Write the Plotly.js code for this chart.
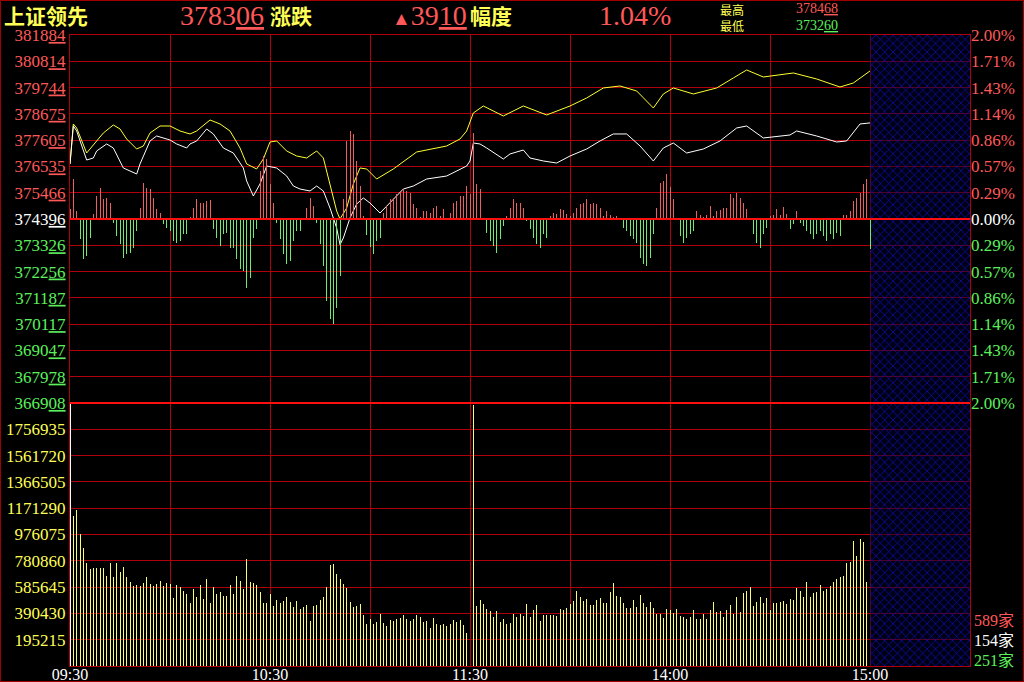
<!DOCTYPE html>
<html><head><meta charset="utf-8">
<script src="https://cdn.plot.ly/plotly-3.0.1.min.js"></script>
<style>html,body{margin:0;padding:0;background:#000;}#chart{width:1024px;height:682px;}</style>
</head><body><div id="chart"></div>
<script>
// ---------------- DATA ----------------
const prevClose = 374396;
const lastPrice = 378306;
const changePts = 3910;
const changePct = '1.04%';
const dayHigh = 378468;
const dayLow = 373260;
const upCount = 589, flatCount = 154, downCount = 251;

const timeLabels = ['09:30','','10:30','','11:30','','14:00','','15:00'];
const gridMinutes = [0,30,60,90,120,150,180,210,240];

const priceTickLabels = ['381884','380814','379744','378675','377605','376535','375466','374396','373326','372256','371187','370117','369047','367978','366908'];
const volTickLabels = ['1756935','1561720','1366505','1171290','976075','780860','585645','390430','195215'];

// white line (weighted index), minute offsets from 09:30 (lunch break removed)
const whiteMin = [0,1,2,5,7,8,11,13,16,20,21,24,26,28,30,32,35,36,38,41,43,46,49,52,53,55,57,59,62,65,67,69,72,74,76,78,80,81,82,84,86,88,90,93,100,103,107,113,117,119,120,121,123,125,130,132,136,138,142,146,150,155,159,163,167,171,175,178,181,185,190,195,200,203,208,216,218,224,230,233,237,240];
const whiteVal = [376635,378181,377978,376797,376879,377164,377449,377286,376472,376228,376635,377571,377774,377693,377611,377449,377286,377449,377571,378059,377856,377286,377082,376472,375943,375332,375821,376553,376472,376146,375739,375617,375536,375739,375536,374844,374030,373350,373623,374437,375007,375251,375047,374640,375617,375739,376024,376146,376431,376553,376757,377489,377449,377286,376838,377042,377204,376879,376757,376675,376960,377245,377571,377856,377856,377367,376757,377286,377489,377082,377245,377571,378100,378181,377693,377815,377978,377774,377530,377571,378263,378306];

// yellow line (leading / unweighted)
const yelMin = [0,1,2,5,8,10,13,15,17,20,22,24,27,30,33,36,38,42,45,48,51,53,56,58,60,62,65,68,71,74,76,78,80,81,83,85,87,89,91,92,97,104,113,117,119,121,124,127,130,136,143,150,155,160,165,170,175,178,181,187,194,199,203,208,217,224,231,235,240];
const yelVal = [376635,378263,378100,377082,377571,377896,378222,378059,377652,377245,377367,377896,378181,378181,377978,377856,377978,378425,378263,377978,377286,376635,376431,376838,377530,377571,377164,376960,376879,377164,376879,375821,374722,374396,374844,375821,376472,376431,376146,376024,376431,377123,377367,377652,377978,378710,378995,378792,378588,378995,378629,378995,379321,379728,379809,379606,378914,379484,379728,379484,379728,380135,380460,380175,380338,380094,379768,379931,380420];

// buy/sell strength bars, one per minute (0..240)
const strength = [10,40,8,-20,-40,-37,-19,5,23,31,
20,21,16,-4,-17,-25,-39,-35,-34,-29,
-12,11,36,31,30,21,10,6,-5,-9,
-12,-22,-24,-22,-15,-15,2,11,20,16,
16,18,19,-10,-19,-27,-15,-14,-29,-29,
-40,-50,-52,-69,-59,-19,-10,48,63,60,
35,16,-4,-20,-35,-45,-42,-22,-12,-12,
1,11,21,13,-4,-25,-47,-82,-100,-105,
-89,-57,20,78,88,85,58,33,3,-16,
-28,-35,-22,-19,6,13,20,21,25,26,
30,28,26,15,11,2,8,8,6,11,
13,3,10,1,6,16,18,23,23,33,
25,86,35,30,0,-14,-22,-27,-34,-20,
-7,3,11,20,16,16,11,-2,-10,-19,
-25,-29,-15,-19,3,6,5,10,9,5,
3,6,11,15,16,20,15,16,15,11,
3,8,4,2,3,1,-9,-12,-17,-20,
-24,-39,-45,-47,-39,-15,11,36,38,45,
32,20,0,-17,-24,-19,-15,-12,8,4,
2,4,13,3,8,9,11,11,25,21,
26,21,16,10,1,-15,-24,-29,-15,-9,
3,4,10,4,12,5,-10,-5,8,-4,
-7,-12,-15,-20,-15,-12,-17,-22,-15,-20,
-14,-17,4,4,8,18,21,26,35,40,
-30];

// volume, one per minute (0..240)
const volume = [1950000,1113000,1158000,980000,876000,765000,720000,727000,727000,727000,
727000,668000,765000,661000,765000,698000,735000,661000,624000,594000,
601000,594000,616000,661000,609000,594000,609000,631000,594000,616000,
609000,505000,601000,586000,557000,534000,468000,572000,512000,601000,
497000,646000,468000,586000,534000,549000,520000,520000,601000,534000,
668000,631000,572000,794000,624000,616000,601000,549000,468000,468000,
534000,445000,490000,468000,482000,512000,475000,438000,482000,423000,
438000,453000,334000,445000,453000,490000,512000,586000,750000,757000,
683000,646000,609000,579000,475000,438000,445000,460000,379000,312000,
349000,312000,327000,386000,319000,297000,341000,334000,349000,356000,
379000,349000,334000,349000,379000,364000,327000,334000,282000,356000,
312000,304000,312000,297000,312000,341000,327000,341000,304000,245000,
0,1937000,445000,490000,460000,422000,410000,362000,410000,328000,
349000,312000,317000,384000,361000,388000,371000,460000,361000,416000,
450000,334000,379000,379000,379000,379000,371000,423000,416000,428000,
460000,485000,557000,515000,485000,497000,453000,453000,490000,502000,
465000,470000,549000,614000,520000,510000,465000,428000,428000,490000,
436000,527000,465000,436000,475000,432000,388000,386000,359000,421000,
416000,391000,423000,371000,361000,349000,366000,416000,349000,349000,
388000,349000,416000,475000,401000,411000,364000,416000,450000,386000,
510000,401000,544000,559000,584000,445000,475000,510000,470000,502000,
416000,468000,470000,475000,485000,460000,497000,490000,581000,559000,
515000,624000,515000,544000,552000,601000,559000,572000,596000,626000,
646000,663000,668000,767000,774000,930000,819000,943000,923000,626000,
0];

// ---------------- STYLE / GEOMETRY ----------------
const L = 70, R = 970, T = 35, B = 666, SPLIT = 403;
const fx = px => (px - L) / (R - L);
const fy = py => (B - py) / (B - T);
const pd = fy(SPLIT);
const GRID = '#b0000e';
const RED = '#ff5858', GREEN = '#5cf05c', YEL = '#ffff55', WHITE = '#ffffff';
const NUMF = 'Liberation Serif, Noto Sans CJK SC';
const CJK = 'Noto Sans CJK SC';

const minutes = volume.map((_, i) => i);
const closeMin = gridMinutes[gridMinutes.length - 1];
const xMax = 270;
const priceMin = Number(priceTickLabels[priceTickLabels.length - 1]);
const priceMax = Number(priceTickLabels[0]);
const volStep = Number(volTickLabels[volTickLabels.length - 1]);
const volTop = volStep * (volTickLabels.length + 1);
const pctRange = (priceMax / prevClose - 1) * 100;

const u2 = s => { s = String(s); return s.slice(0, -2) + '<u>' + s.slice(-2) + '</u>'; };
const tone = (v, ref) => v > ref ? RED : (v < ref ? GREEN : WHITE);

const priceTickVals = priceTickLabels.map(Number);
const priceTickText = priceTickLabels.map(s => `<span style="color:${tone(Number(s), prevClose)}">${u2(s)}</span>`);
const pctTickVals = priceTickVals.map(p => (p / prevClose - 1) * 100);
const pctTickText = pctTickVals.map(v => `<span style="color:${tone(Math.round(v*100), 0)}">${Math.abs(v).toFixed(2)}%</span>`);
const volTickVals = volTickLabels.map(Number);

const hatch = { shape: 'x', fgcolor: '#1010b8', bgcolor: 'rgba(0,0,40,0.5)', size: 6, solidity: 0.22 };

const traces = [
  { // hatched after-close area, price panel
    x: [closeMin, xMax, xMax, closeMin], y: [-pctRange, -pctRange, pctRange, pctRange],
    xaxis: 'x2', yaxis: 'y2', type: 'scatter', mode: 'none', fill: 'toself',
    fillcolor: 'rgba(0,0,0,0)', fillpattern: hatch, hoverinfo: 'skip'
  },
  { // hatched after-close area, volume panel
    x: [closeMin, xMax, xMax, closeMin], y: [0, 0, volTop, volTop],
    xaxis: 'x', yaxis: 'y4', type: 'scatter', mode: 'none', fill: 'toself',
    fillcolor: 'rgba(0,0,0,0)', fillpattern: hatch, hoverinfo: 'skip'
  },
  {
    type: 'bar', x: minutes, y: strength, xaxis: 'x2', yaxis: 'y3', width: 0.3,
    marker: { color: strength.map(v => v >= 0 ? 'rgba(240,96,96,0.99)' : 'rgba(110,238,110,0.99)'), line: { width: 0 } },
    hoverinfo: 'skip'
  },
  {
    type: 'scatter', mode: 'lines', x: yelMin, y: yelVal, xaxis: 'x2', yaxis: 'y',
    line: { color: '#ffff30', width: 1 }, hoverinfo: 'skip'
  },
  {
    type: 'scatter', mode: 'lines', x: whiteMin, y: whiteVal, xaxis: 'x2', yaxis: 'y',
    line: { color: '#ffffff', width: 1 }, hoverinfo: 'skip'
  },
  {
    type: 'bar', x: minutes, y: volume, xaxis: 'x', yaxis: 'y4', width: 0.3,
    marker: { color: volume.map((v, i) => i === 0 ? 'rgba(255,255,255,0.99)' : 'rgba(255,255,112,0.99)'), line: { width: 0 } },
    hoverinfo: 'skip'
  }
];

const ann = (text, px, py, color, size, family) => ({
  text, x: fx(px), y: fy(py), xref: 'paper', yref: 'paper', xanchor: 'left', yanchor: 'middle',
  showarrow: false, font: { color, size, family }
});

const annotations = [
  ann('<b>上证领先</b>', 2, 15.5, YEL, 21, CJK),
  ann(u2(lastPrice), 178, 15, RED, 28, NUMF),
  ann('<b>涨跌</b>', 268, 15.5, YEL, 21, CJK),
  ann('<span style="font-size:19px">▲</span>' + u2(changePts), 390, 15, RED, 28, NUMF),
  ann('<b>幅度</b>', 468, 15.5, YEL, 21, CJK),
  ann(changePct, 597, 15, RED, 28, NUMF),
  ann('最高', 718, 9, YEL, 12, CJK),
  ann('最低', 718, 25.5, YEL, 12, CJK),
  ann(u2(dayHigh), 794, 8.5, RED, 14, NUMF),
  ann(u2(dayLow), 794, 25, GREEN, 14, NUMF),
  ann(upCount + '家', 972, 620, RED, 16, NUMF),
  ann(flatCount + '家', 972, 640, WHITE, 16, NUMF),
  ann(downCount + '家', 972, 660, GREEN, 16, NUMF)
];

const shapes = [
  { type: 'line', xref: 'x2', yref: 'y', x0: 0, x1: xMax, y0: prevClose, y1: prevClose, line: { color: '#ff1010', width: 2 }, layer: 'above' },
  { type: 'line', xref: 'paper', yref: 'paper', x0: 0, x1: 1, y0: pd, y1: pd, line: { color: '#ff1010', width: 2 }, layer: 'above' },
  { type: 'rect', xref: 'paper', yref: 'paper', x0: fx(0.5), x1: fx(1023.5), y0: fy(681.5), y1: fy(0.5), line: { color: '#a00000', width: 1 }, layer: 'above' }
];

const axBase = { showgrid: true, gridcolor: GRID, gridwidth: 1, zeroline: false, showline: true, linecolor: GRID, linewidth: 1, mirror: true, ticks: '', fixedrange: true, automargin: false };

const layout = {
  width: 1024, height: 682,
  margin: { l: L, r: 1024 - R, t: T, b: 682 - B, pad: 0 },
  paper_bgcolor: '#000', plot_bgcolor: '#000',
  showlegend: false, bargap: 0, barmode: 'overlay',
  font: { family: NUMF, size: 17, color: WHITE },
  xaxis: Object.assign({}, axBase, { domain: [0, 1], anchor: 'y4', range: [0, xMax], tickmode: 'array', tickvals: gridMinutes, ticktext: timeLabels, ticklabelstandoff: -6, tickfont: { color: WHITE, size: 16, family: NUMF } }),
  xaxis2: Object.assign({}, axBase, { domain: [0, 1], anchor: 'y', range: [0, xMax], tickmode: 'array', tickvals: gridMinutes, showticklabels: false }),
  yaxis: Object.assign({}, axBase, { domain: [pd, 1], anchor: 'x2', range: [priceMin, priceMax], tickmode: 'array', tickvals: priceTickVals, ticktext: priceTickText, tickfont: { size: 17, family: NUMF } }),
  yaxis2: { overlaying: 'y', anchor: 'x2', side: 'right', range: [-pctRange, pctRange], tickmode: 'array', tickvals: pctTickVals, ticktext: pctTickText, showgrid: false, zeroline: false, showline: false, ticks: '', tickfont: { size: 17, family: NUMF }, fixedrange: true, automargin: false },
  yaxis3: { overlaying: 'y', anchor: 'x2', range: [-184, 184], visible: false, fixedrange: true },
  yaxis4: Object.assign({}, axBase, { domain: [0, pd], anchor: 'x', range: [0, volTop], tickmode: 'array', tickvals: volTickVals, ticktext: volTickLabels, tickfont: { color: YEL, size: 17, family: NUMF } }),
  annotations, shapes
};

Plotly.newPlot('chart', traces, layout, { displayModeBar: false, responsive: false });
</script>
</body></html>
